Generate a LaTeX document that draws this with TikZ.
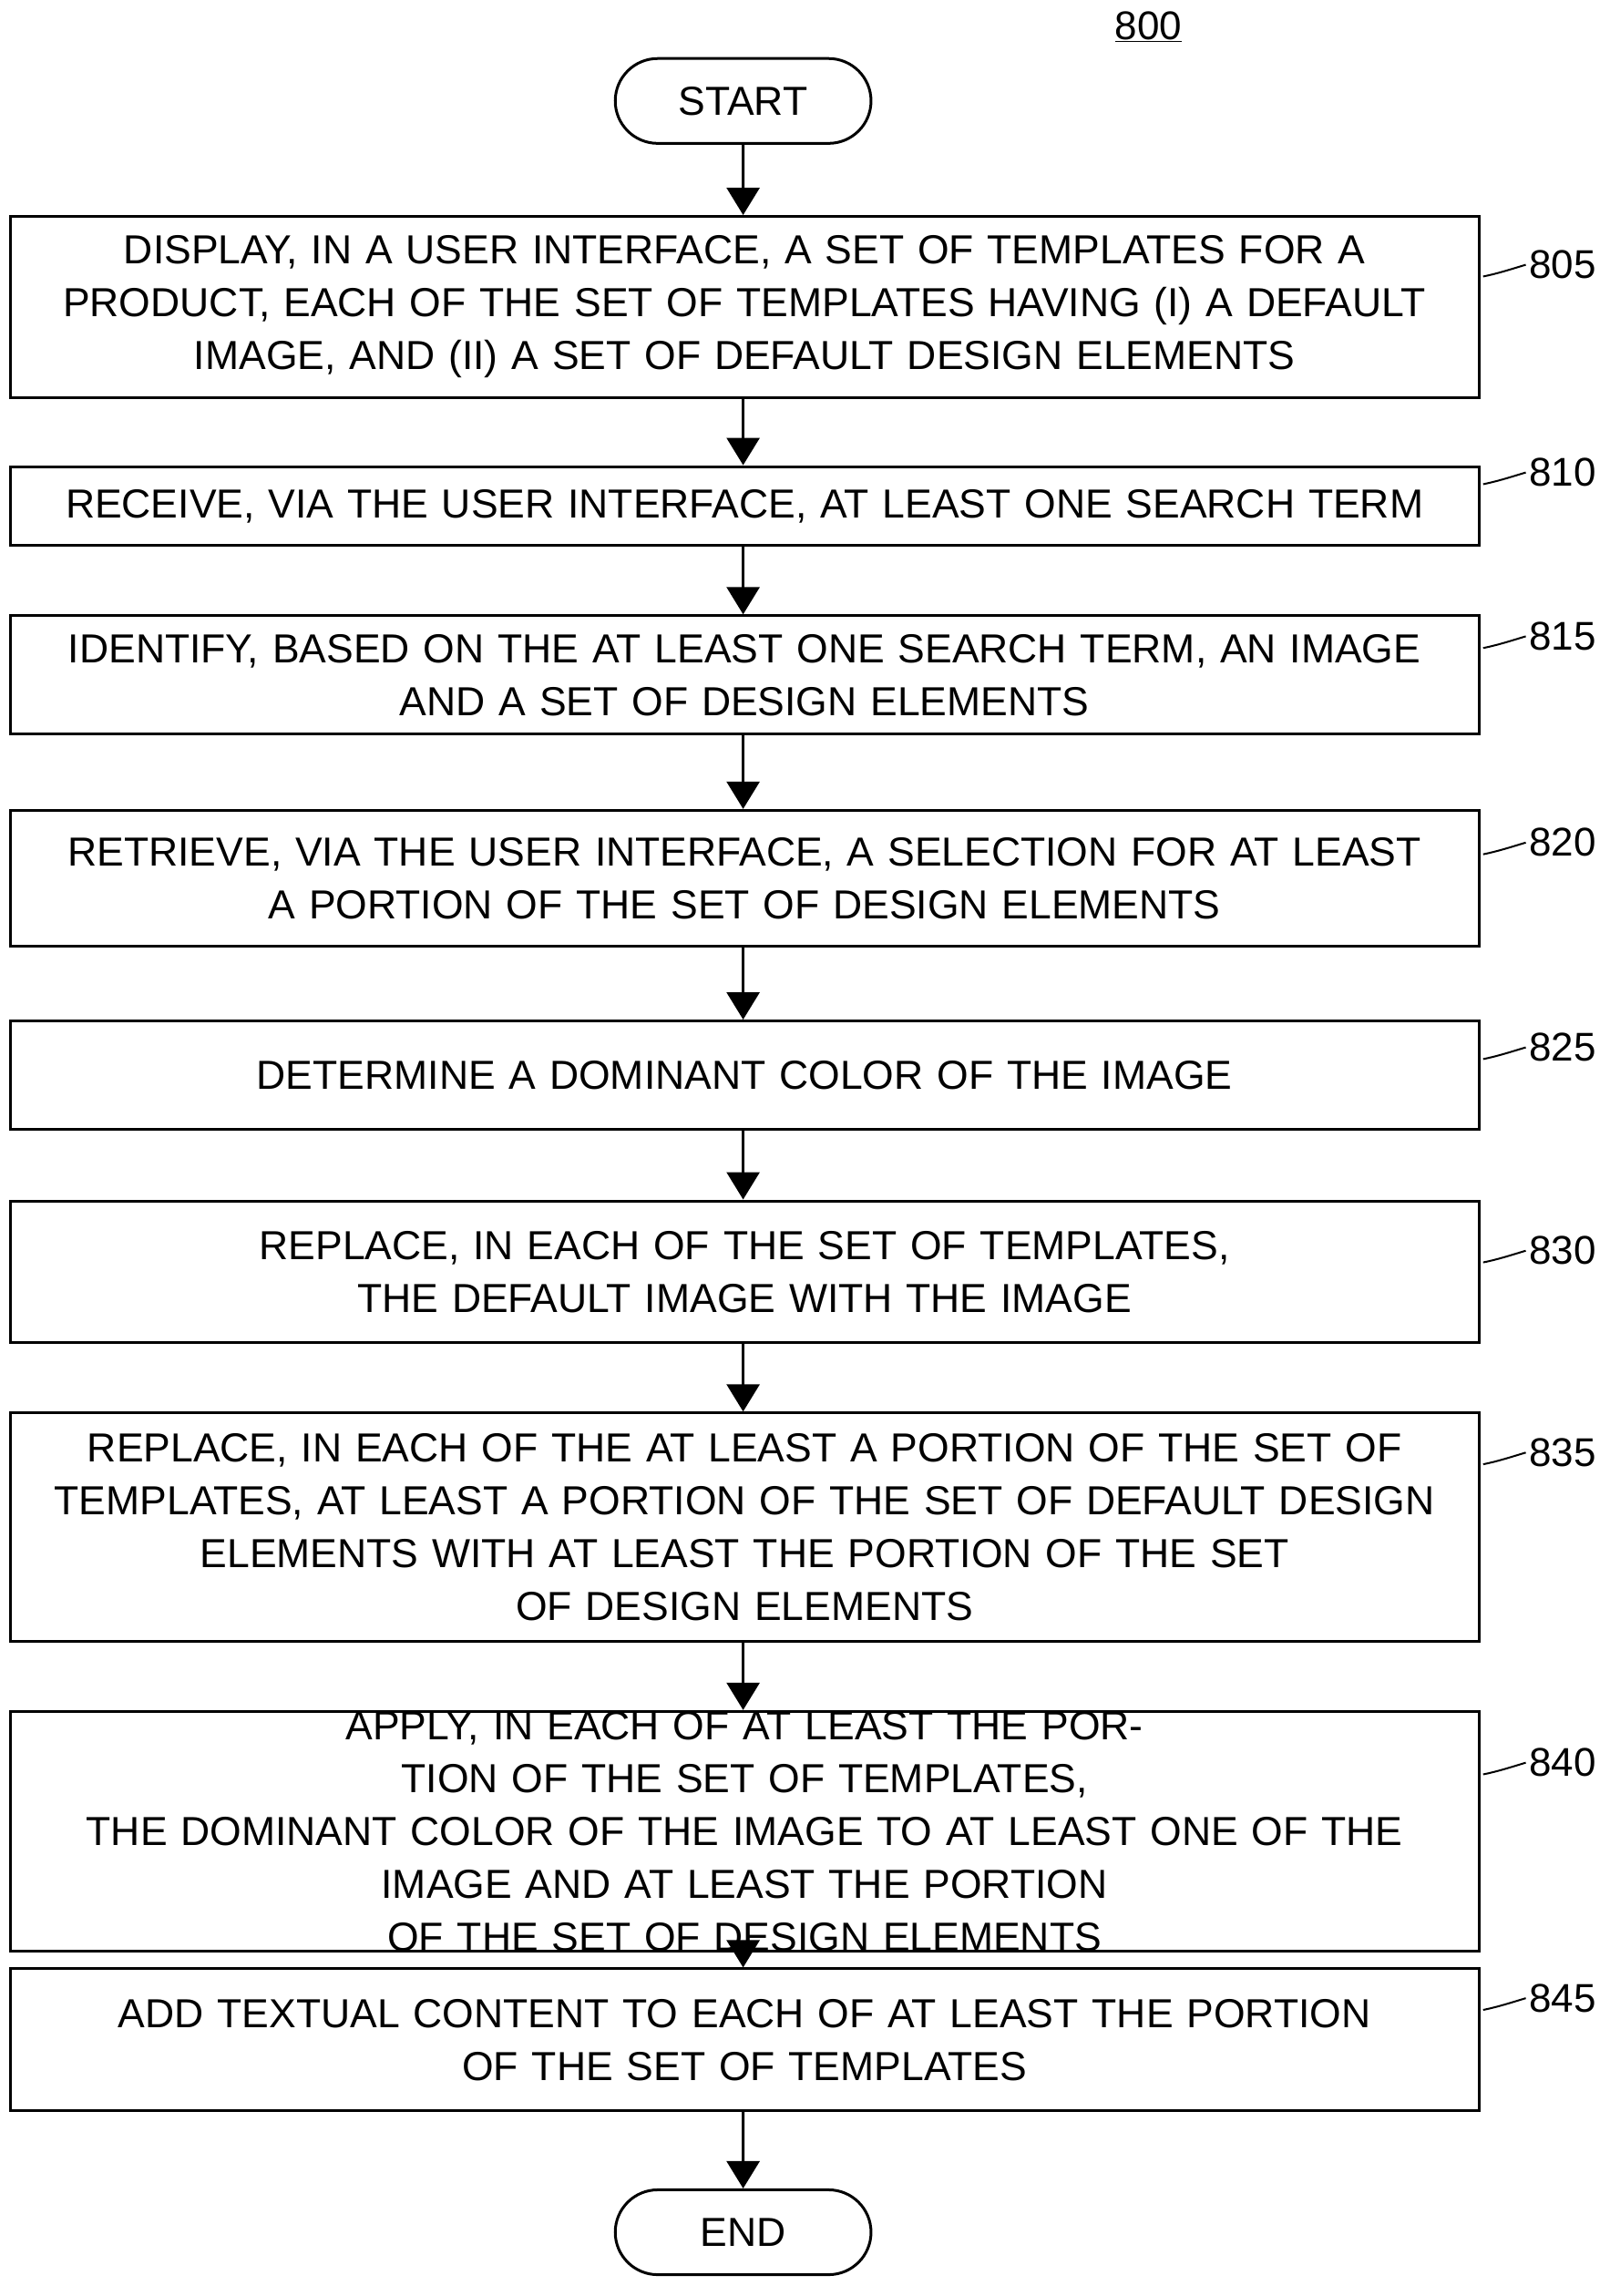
\documentclass[tikz,border=0pt]{standalone}
\usepackage{fontspec}
\setmainfont{Liberation Sans}
\usetikzlibrary{arrows.meta,shapes.misc,calc}
\begin{document}
\begin{tikzpicture}[x=1.6055pt,y=-1.6055pt,
  every node/.style={font=\fontsize{44.5}{58}\selectfont},
  box/.style={draw,line width=3pt,minimum width=1004*1.6055pt,text width=990*1.6055pt,inner sep=0pt,align=center,anchor=north west},
  term/.style={draw,line width=3pt,rounded rectangle,minimum width=179*1.6055pt,minimum height=58*1.6055pt},
  arr/.style={line width=3pt,-{Triangle[width=36pt,length=30pt]}},
  lab/.style={anchor=west,font=\fontsize{44}{50}\selectfont},
  sq/.style={line width=2pt}]
\useasboundingbox (0,0) rectangle (1100,1569.6);
\node[font=\fontsize{44}{50}\selectfont] (n800) at (785,18) {\underline{800}};
\node[term] (start) at (508,69) {START};
\node[term] (end) at (508,1526) {END};
\newcommand\bx[5]{\node[box,minimum height=#3*1.6055pt] (#1) at (6,#2) {#4};
  \node[lab] (l#1) at (1043,#5) {#1};
  \draw[sq] ($(#1.north east)+(2,{#5-#2+8})$) .. controls +(10,-2) and +(-10,3) .. (l#1.west);}
\bx{805}{147}{124}{DISPLAY, IN A USER INTERFACE, A SET OF TEMPLATES FOR A\\PRODUCT, EACH OF THE SET OF TEMPLATES HAVING (I) A DEFAULT\\IMAGE, AND (II) A SET OF DEFAULT DESIGN ELEMENTS}{181}
\bx{810}{318}{54}{RECEIVE, VIA THE USER INTERFACE, AT LEAST ONE SEARCH TERM}{323}
\bx{815}{420}{81}{IDENTIFY, BASED ON THE AT LEAST ONE SEARCH TERM, AN IMAGE\\AND A SET OF DESIGN ELEMENTS}{435}
\bx{820}{553}{93}{RETRIEVE, VIA THE USER INTERFACE, A SELECTION FOR AT LEAST\\A PORTION OF THE SET OF DESIGN ELEMENTS}{576}
\bx{825}{697}{74}{DETERMINE A DOMINANT COLOR OF THE IMAGE}{716}
\bx{830}{820}{97}{REPLACE, IN EACH OF THE SET OF TEMPLATES,\\THE DEFAULT IMAGE WITH THE IMAGE}{855}
\bx{835}{965}{156}{REPLACE, IN EACH OF THE AT LEAST A PORTION OF THE SET OF\\TEMPLATES, AT LEAST A PORTION OF THE SET OF DEFAULT DESIGN\\ELEMENTS WITH AT LEAST THE PORTION OF THE SET\\OF DESIGN ELEMENTS}{993}
\bx{840}{1169}{128}{APPLY, IN EACH OF AT LEAST THE PORTION OF THE SET OF TEMPLATES,\\THE DOMINANT COLOR OF THE IMAGE TO AT LEAST ONE OF THE\\IMAGE AND AT LEAST THE PORTION OF THE SET OF DESIGN ELEMENTS}{1205}
\bx{845}{1345}{97}{ADD TEXTUAL CONTENT TO EACH OF AT LEAST THE PORTION\\OF THE SET OF TEMPLATES}{1366}
\draw[arr] (start) -- (805.north -| start);
\foreach \a/\b in {805/810,810/815,815/820,820/825,825/830,830/835,835/840,840/845}
  \draw[arr] (\a.south -| start) -- (\b.north -| start);
\draw[arr] (845.south -| end) -- (end);
\end{tikzpicture}
\end{document}
